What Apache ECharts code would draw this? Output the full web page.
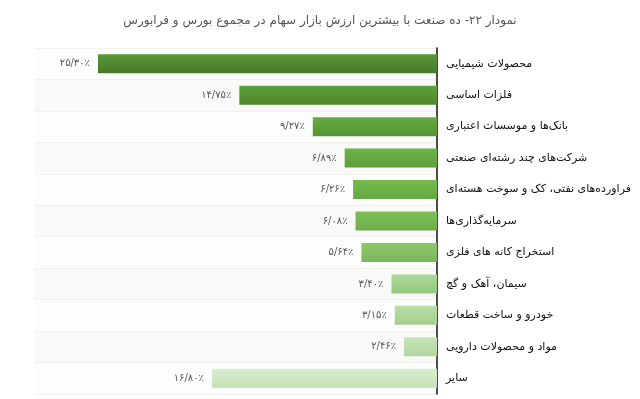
<!DOCTYPE html>
<html>
<head>
<meta charset="utf-8">
<script src="https://cdn.jsdelivr.net/npm/echarts@6/dist/echarts.min.js"></script>
<style>
  html, body { margin: 0; padding: 0; background: #fff; }
  #chart { width: 640px; height: 399px; }
</style>
</head>
<body>
<div id="chart"></div>
<script>
// داده‌ها
var titleText = 'نمودار ۲۲- ده صنعت با بیشترین ارزش بازار سهام در مجموع بورس و فرابورس';
var industries = [
  'محصولات شیمیایی',
  'فلزات اساسی',
  'بانک‌ها و موسسات اعتباری',
  'شرکت‌های چند رشته‌ای صنعتی',
  'فراورده‌های نفتی، کک و سوخت هسته‌ای',
  'سرمایه‌گذاری‌ها',
  'استخراج کانه های فلزی',
  'سیمان، آهک و گچ',
  'خودرو و ساخت قطعات',
  'مواد و محصولات دارویی',
  'سایر'
];
var shares = [25.30, 14.75, 9.27, 6.89, 6.26, 6.08, 5.64, 3.40, 3.15, 2.46, 16.80];
var barTop = ['#5b9638', '#5fa03a', '#66aa42', '#6db448', '#74ba4e', '#7cc056', '#8cc86a', '#acd996', '#b8dfa4', '#c6e5b6', '#d9efcf'];
var barBottom = ['#47792a', '#4f872c', '#579433', '#5ea03a', '#66a842', '#6eae4a', '#7cb65c', '#96c682', '#a3cd90', '#b2d5a2', '#c4e0b8'];

function faDigits(s) {
  return String(s).replace(/[0-9]/g, function (d) { return '۰۱۲۳۴۵۶۷۸۹'[d]; });
}

var chart = echarts.init(document.getElementById('chart'));
chart.setOption({
  backgroundColor: '#fff',
  title: {
    text: titleText,
    left: 'center',
    top: 10,
    textStyle: { fontFamily: 'DejaVu Sans', fontSize: 12, fontWeight: 'normal', color: '#555' }
  },
  grid: { left: 35, right: 203, top: 48, bottom: 5 },
  xAxis: {
    type: 'value',
    inverse: true,
    min: 0,
    max: 30,
    show: false
  },
  yAxis: {
    type: 'category',
    inverse: true,
    position: 'right',
    data: industries,
    axisLine: { show: true, lineStyle: { color: '#111', width: 1.5 } },
    axisTick: { show: false },
    axisLabel: {
      margin: 9,
      align: 'left',
      color: '#111',
      fontFamily: 'DejaVu Sans',
      fontSize: 11
    },
    splitLine: { show: true, lineStyle: { color: '#eef1ec', width: 1 } },
    splitArea: { show: true, areaStyle: { color: ['#fdfdfc', '#f9faf7'] } }
  },
  series: [{
    type: 'bar',
    barWidth: 19,
    data: shares.map(function (v, i) {
      return {
        value: v,
        itemStyle: {
          color: new echarts.graphic.LinearGradient(0, 0, 0, 1, [
            { offset: 0, color: barTop[i] },
            { offset: 1, color: barBottom[i] }
          ])
        }
      };
    }),
    label: {
      show: true,
      position: 'left',
      distance: 8,
      color: '#555',
      fontFamily: 'DejaVu Sans',
      fontSize: 10,
      formatter: function (p) { return faDigits(p.value.toFixed(2)).replace('.', '/') + '٪'; }
    }
  }]
});
</script>
</body>
</html>
